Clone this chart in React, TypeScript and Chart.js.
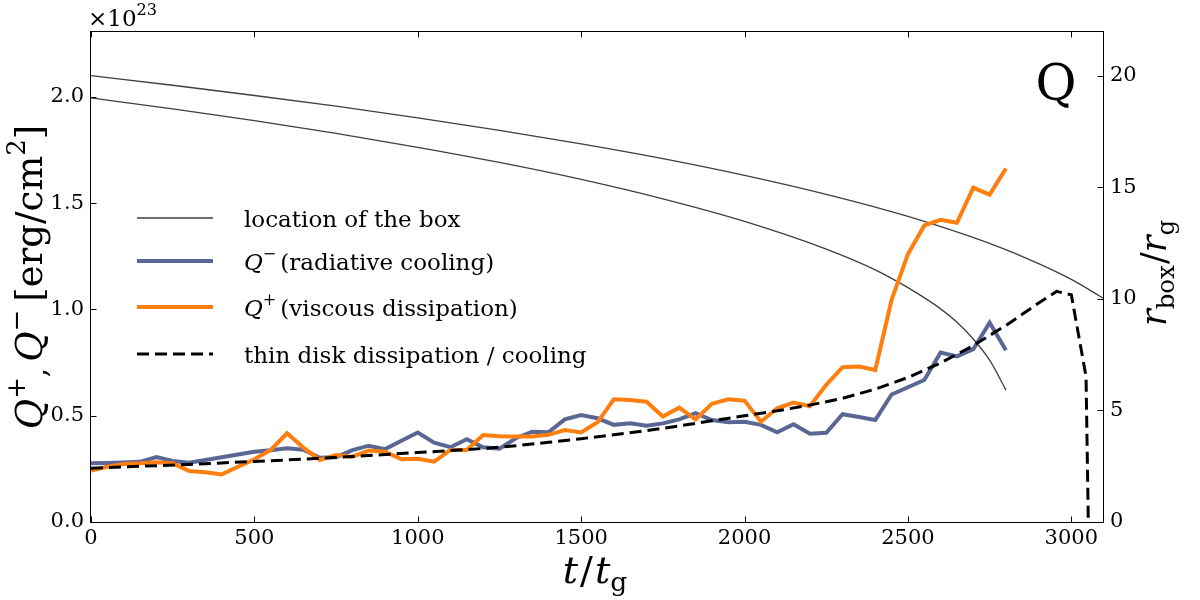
import React, { useEffect, useRef } from "react";
import { Chart, registerables } from "chart.js";

Chart.register(...registerables);

const SERIF = '"DejaVu Serif", serif';

// ---- data ----
const tQ = [
  0, 50, 100, 150, 200, 250, 300, 350, 400, 450,
  500, 550, 600, 650, 700, 750, 800, 850, 900, 950,
  1000, 1050, 1100, 1150, 1200, 1250, 1300, 1350, 1400, 1450,
  1500, 1550, 1600, 1650, 1700, 1750, 1800, 1850, 1900, 1950,
  2000, 2050, 2100, 2150, 2200, 2250, 2300, 2350, 2400, 2450,
  2500, 2550, 2600, 2650, 2700, 2750, 2800,
];

// Q- (radiative cooling), units of 1e23 erg/cm^2
const qMinus = [
  0.276, 0.278, 0.28, 0.283, 0.305, 0.287, 0.279, 0.292, 0.305, 0.318,
  0.33, 0.338, 0.347, 0.34, 0.302, 0.305, 0.338, 0.359, 0.343, 0.382,
  0.421, 0.373, 0.352, 0.389, 0.352, 0.345, 0.394, 0.425, 0.422, 0.483,
  0.503, 0.488, 0.457, 0.464, 0.453, 0.464, 0.483, 0.512, 0.48, 0.469,
  0.472, 0.457, 0.422, 0.46, 0.415, 0.42, 0.507, 0.494, 0.48, 0.6,
  0.634, 0.668, 0.797, 0.779, 0.813, 0.938, 0.808,
];

// Q+ (viscous dissipation)
const qPlus = [
  0.242, 0.26, 0.273, 0.276, 0.281, 0.276, 0.24, 0.234, 0.224, 0.26,
  0.295, 0.339, 0.417, 0.35, 0.292, 0.315, 0.307, 0.336, 0.331, 0.295,
  0.297, 0.284, 0.339, 0.339, 0.409, 0.403, 0.402, 0.402, 0.41, 0.433,
  0.421, 0.469, 0.577, 0.574, 0.566, 0.496, 0.538, 0.483, 0.556, 0.577,
  0.571, 0.472, 0.535, 0.562, 0.545, 0.645, 0.728, 0.731, 0.715, 1.045,
  1.26, 1.395, 1.422, 1.408, 1.573, 1.54, 1.663,
];

// thin disk dissipation / cooling
const tDisk = [
  0, 100, 200, 300, 400, 500, 600, 700, 800, 900,
  1000, 1100, 1200, 1300, 1400, 1500, 1600, 1700, 1800, 1900,
  2000, 2100, 2200, 2300, 2400, 2500, 2600, 2700, 2800, 2900,
  2955, 3000, 3045, 3052,
];
const qDisk = [
  0.253, 0.259, 0.265, 0.271, 0.278, 0.285, 0.292, 0.3, 0.308, 0.317,
  0.327, 0.336, 0.346, 0.359, 0.375, 0.392, 0.41, 0.43, 0.452, 0.476,
  0.5, 0.523, 0.55, 0.582, 0.625, 0.68, 0.748, 0.83, 0.925, 1.03,
  1.085, 1.069, 0.684, 0.0,
];

// location of the box (right axis, r_box / r_g)
const tBoxOuter = [0, 250, 500, 750, 1000, 1250, 1500, 1750, 2000, 2250, 2500, 2750, 2900, 3000, 3100];
const rBoxOuter = [20.0, 19.57, 19.11, 18.63, 18.11, 17.55, 16.94, 16.28, 15.53, 14.68, 13.69, 12.48, 11.58, 10.87, 10.01];
const tBoxInner = [0, 250, 500, 750, 1000, 1250, 1500, 1750, 2000, 2250, 2400, 2500, 2600, 2650, 2700, 2750, 2800];
const rBoxInner = [19.0, 18.51, 17.98, 17.41, 16.79, 16.11, 15.35, 14.48, 13.47, 12.23, 11.3, 10.5, 9.55, 8.95, 8.2, 7.25, 5.91];

// tick values
const xTicks = [0, 500, 1000, 1500, 2000, 2500, 3000];
const yTicks = [0, 0.5, 1.0, 1.5, 2.0];
const y2Ticks = [0, 5, 10, 15, 20];

const BOX_COLOR = "#3f3f3f";
const BLUE = "#5a6795";
const ORANGE = "#ff7f0e";
const BLACK = "#000000";

type Seg = { t: string; it?: boolean; s?: number; dy?: number; gap?: number };

const legendRows: { ds: number; segs: Seg[] }[] = [
  { ds: 0, segs: [{ t: "location of the box" }] },
  { ds: 2, segs: [{ t: "Q", it: true }, { t: "−", s: 0.7, dy: 0.45, gap: 4 }, { t: "(radiative cooling)" }] },
  { ds: 3, segs: [{ t: "Q", it: true }, { t: "+", s: 0.7, dy: 0.45, gap: 4 }, { t: "(viscous dissipation)" }] },
  { ds: 4, segs: [{ t: "thin disk dissipation / cooling" }] },
];

const yTitle: Seg[] = [
  { t: "Q", it: true },
  { t: "+", s: 0.7, dy: 0.45 },
  { t: ",", s: 0.8, dy: -0.1, gap: 6 },
  { t: "Q", it: true },
  { t: "−", s: 0.7, dy: 0.45, gap: 8 },
  { t: "[erg/cm" },
  { t: "2", s: 0.7, dy: 0.45 },
  { t: "]" },
];
const xTitle: Seg[] = [
  { t: "t", it: true, gap: 2 },
  { t: "/", gap: 2 },
  { t: "t", it: true },
  { t: "g", s: 0.7, dy: -0.22 },
];
const y2Title: Seg[] = [
  { t: "r", it: true },
  { t: "box", s: 0.7, dy: -0.22, gap: 1 },
  { t: "/" },
  { t: "r", it: true },
  { t: "g", s: 0.7, dy: -0.22 },
];
const offsetText: Seg[] = [{ t: "×10" }, { t: "23", s: 0.7, dy: 0.5 }];

function drawRich(
  ctx: CanvasRenderingContext2D,
  segs: Seg[],
  x: number,
  y: number,
  size: number,
  align: "left" | "center",
  rot = 0
) {
  ctx.save();
  ctx.translate(x, y);
  if (rot) ctx.rotate(rot);
  ctx.fillStyle = "#000";
  ctx.textAlign = "left";
  ctx.textBaseline = "alphabetic";
  const fonts = segs.map((s) => `${s.it ? "italic " : ""}${(size * (s.s ?? 1)).toFixed(1)}px ${SERIF}`);
  const ws = segs.map((s, i) => {
    ctx.font = fonts[i];
    return ctx.measureText(s.t).width + (s.gap ?? 0);
  });
  const total = ws.reduce((a, b) => a + b, 0);
  let cx = align === "center" ? -total / 2 : 0;
  segs.forEach((s, i) => {
    ctx.font = fonts[i];
    ctx.fillText(s.t, cx, -(s.dy ?? 0) * size);
    cx += ws[i];
  });
  ctx.restore();
}

const decorPlugin = {
  id: "decor",
  afterDraw(chart: any) {
    const { ctx, chartArea: a, scales } = chart;
    ctx.save();
    // frame
    ctx.strokeStyle = "#000";
    ctx.lineWidth = 1;
    ctx.setLineDash([]);
    const L = Math.round(a.left) - 0.5;
    const R = Math.round(a.right) - 0.5;
    const T = Math.round(a.top) + 0.5;
    const B = Math.round(a.bottom) + 0.5;
    ctx.strokeRect(L, T, R - L, B - T);
    // inward tick marks
    const TL = 6;
    ctx.beginPath();
    scales.x.ticks.forEach((t: any) => {
      const px = Math.round(scales.x.getPixelForValue(t.value)) + 0.5;
      ctx.moveTo(px, B);
      ctx.lineTo(px, B - TL);
      ctx.moveTo(px, T);
      ctx.lineTo(px, T + TL);
    });
    scales.y.ticks.forEach((t: any) => {
      const py = Math.round(scales.y.getPixelForValue(t.value)) + 0.5;
      ctx.moveTo(L, py);
      ctx.lineTo(L + TL, py);
    });
    scales.y2.ticks.forEach((t: any) => {
      const py = Math.round(scales.y2.getPixelForValue(t.value)) + 0.5;
      ctx.moveTo(R, py);
      ctx.lineTo(R - TL, py);
    });
    ctx.stroke();

    // legend
    const rowsY = [218, 261, 307, 354];
    legendRows.forEach((row, i) => {
      const ds = chart.data.datasets[row.ds];
      const y = rowsY[i];
      ctx.save();
      ctx.strokeStyle = ds.borderColor;
      ctx.lineWidth = ds.borderWidth;
      ctx.setLineDash(ds.borderDash || []);
      ctx.lineCap = "butt";
      ctx.beginPath();
      ctx.moveTo(137, y);
      ctx.lineTo(213, y);
      ctx.stroke();
      ctx.restore();
      drawRich(ctx, row.segs, 244, y + 8.5, 23, "left");
    });

    // axis titles
    drawRich(ctx, xTitle, 595, 583, 38, "center");
    drawRich(ctx, yTitle, 42, 277, 37, "center", -Math.PI / 2);
    drawRich(ctx, y2Title, 1166, 273, 35, "center", -Math.PI / 2);
    // offset text
    drawRich(ctx, offsetText, 88, 26, 23, "left");
    // panel label
    ctx.fillStyle = "#000";
    ctx.font = `50px ${SERIF}`;
    ctx.textAlign = "center";
    ctx.textBaseline = "alphabetic";
    ctx.fillText("Q", 1056, 100);
    ctx.restore();
  },
};

export default function App() {
  const ref = useRef<HTMLCanvasElement>(null);

  useEffect(() => {
    const canvas = ref.current;
    if (!canvas) return;
    const tickFont = { family: SERIF, size: 21 };
    const chart = new Chart(canvas, {
      type: "line",
      data: {
        datasets: [
          {
            label: "location of the box",
            data: tBoxOuter.map((t, i) => ({ x: t, y: rBoxOuter[i] })),
            yAxisID: "y2",
            borderColor: BOX_COLOR,
            borderWidth: 1.3,
            pointRadius: 0,
            cubicInterpolationMode: "monotone",
            order: 4,
          },
          {
            label: "location of the box (inner)",
            data: tBoxInner.map((t, i) => ({ x: t, y: rBoxInner[i] })),
            yAxisID: "y2",
            borderColor: BOX_COLOR,
            borderWidth: 1.3,
            pointRadius: 0,
            cubicInterpolationMode: "monotone",
            order: 4,
          },
          {
            label: "Q− (radiative cooling)",
            data: tQ.map((t, i) => ({ x: t, y: qMinus[i] })),
            yAxisID: "y",
            borderColor: BLUE,
            borderWidth: 4,
            pointRadius: 0,
            tension: 0,
            order: 3,
          },
          {
            label: "Q+ (viscous dissipation)",
            data: tQ.map((t, i) => ({ x: t, y: qPlus[i] })),
            yAxisID: "y",
            borderColor: ORANGE,
            borderWidth: 4,
            pointRadius: 0,
            tension: 0,
            order: 2,
          },
          {
            label: "thin disk dissipation / cooling",
            data: tDisk.map((t, i) => ({ x: t, y: qDisk[i] })),
            yAxisID: "y",
            borderColor: BLACK,
            borderWidth: 3,
            borderDash: [12, 6],
            pointRadius: 0,
            tension: 0,
            order: 1,
          },
        ],
      },
      options: {
        responsive: false,
        animation: false,
        devicePixelRatio: 1,
        layout: { padding: { top: 31, left: 0, right: 0, bottom: 0 } },
        plugins: {
          legend: { display: false },
          tooltip: { enabled: false },
        },
        scales: {
          x: {
            type: "linear",
            min: 0,
            max: 3100,
            grid: { display: false, drawTicks: false },
            border: { display: false },
            afterBuildTicks: (s: any) => {
              s.ticks = xTicks.map((v) => ({ value: v }));
            },
            ticks: {
              autoSkip: false,
              color: "#000",
              font: tickFont,
              padding: 4,
              maxRotation: 0,
              callback: (v: any) => String(v),
            },
            afterFit: (s: any) => {
              s.height = 78;
            },
          },
          y: {
            type: "linear",
            position: "left",
            min: 0,
            max: 2.31,
            grid: { display: false, drawTicks: false },
            border: { display: false },
            afterBuildTicks: (s: any) => {
              s.ticks = yTicks.map((v) => ({ value: v }));
            },
            ticks: {
              autoSkip: false,
              color: "#000",
              font: tickFont,
              padding: 7,
              callback: (v: any) => Number(v).toFixed(1),
            },
            afterFit: (s: any) => {
              s.width = 91;
            },
          },
          y2: {
            type: "linear",
            position: "right",
            min: 0,
            max: 22,
            grid: { display: false, drawTicks: false },
            border: { display: false },
            afterBuildTicks: (s: any) => {
              s.ticks = y2Ticks.map((v) => ({ value: v }));
            },
            ticks: {
              autoSkip: false,
              color: "#000",
              font: tickFont,
              padding: 6,
              callback: (v: any) => String(v),
            },
            afterFit: (s: any) => {
              s.width = 96;
            },
          },
        },
      },
      plugins: [decorPlugin],
    } as any);
    return () => chart.destroy();
  }, []);

  return (
    <div style={{ position: "absolute", left: 0, top: 0, width: 1200, height: 600, background: "#fff" }}>
      <canvas ref={ref} width={1200} height={600} style={{ display: "block", width: 1200, height: 600 }} />
    </div>
  );
}
